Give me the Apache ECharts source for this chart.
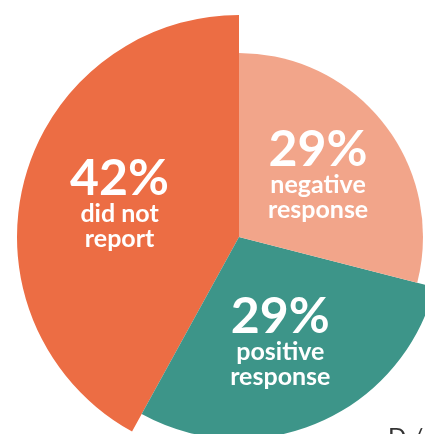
<!DOCTYPE html>
<html>
<head>
<meta charset="utf-8">
<style>
  html, body { margin: 0; padding: 0; background: #ffffff; }
  #chart { width: 425px; height: 434px; }
</style>
<script src="https://cdn.jsdelivr.net/npm/echarts@6/dist/echarts.min.js"></script>
</head>
<body>
<div id="chart"></div>
<script>
// ---- data ----
var categories = ['negative response', 'positive response', 'did not report'];
var values = [29, 29, 42];
var labelLines = [['negative', 'response'], ['positive', 'response'], ['did not', 'report']];

// ---- styles ----
var colors = ['#F2A58A', '#3D9589', '#EC6D44'];
var radii = [184, 202, 222];
var nudges = [[4, -4], [0, 9], [-9, -5]];

var chart = echarts.init(document.getElementById('chart'), null, { renderer: 'canvas' });

function makeSeries(idx) {
  return {
    type: 'pie',
    center: [239, 237],
    radius: [0, radii[idx]],
    startAngle: 90,
    clockwise: true,
    silent: true,
    animation: false,
    labelLine: { show: false },
    labelLayout: function () { return { dx: nudges[idx][0], dy: nudges[idx][1] }; },
    label: {
      show: true,
      position: 'inside',
      color: '#ffffff',
      fontFamily: 'Lato',
      formatter: function (p) {
        var lines = labelLines[p.dataIndex];
        return '{a|' + Math.round(p.percent) + '%}\n{b|' + lines[0] + '}\n{b|' + lines[1] + '}';
      },
      rich: {
        a: { fontFamily: 'Lato', fontWeight: 'bold', fontSize: 50, lineHeight: 46, color: '#ffffff' },
        b: { fontFamily: 'Lato', fontWeight: 'bold', fontSize: 25, lineHeight: 25, color: '#ffffff' }
      }
    },
    data: values.map(function (v, i) {
      return {
        name: categories[i],
        value: v,
        itemStyle: { color: i === idx ? colors[i] : 'rgba(0,0,0,0)' },
        label: { show: i === idx }
      };
    })
  };
}

chart.setOption({
  backgroundColor: '#ffffff',
  animation: false,
  series: [makeSeries(2), makeSeries(1), makeSeries(0)],
  graphic: [{
    type: 'text',
    left: 388,
    top: 425,
    style: { text: 'D /', fill: '#333333', fontFamily: 'Lato', fontSize: 24, fontWeight: 'normal' }
  }]
});
</script>
</body>
</html>
